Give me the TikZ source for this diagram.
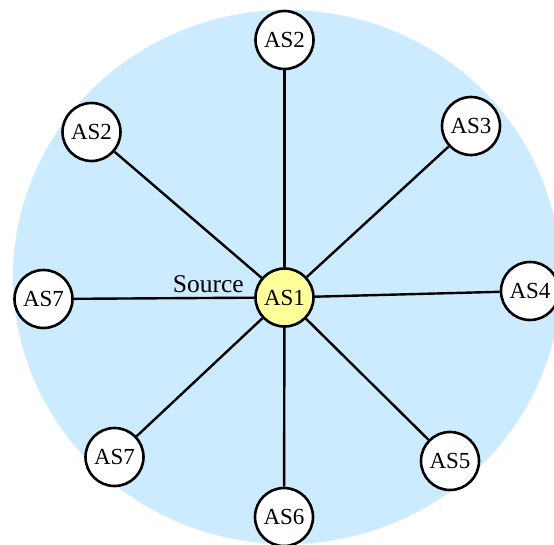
\documentclass[tikz,border=0pt]{standalone}
\usepackage{fontspec}
\setmainfont{Liberation Serif}
\definecolor{skyfill}{RGB}{204,235,254}
\definecolor{srcfill}{RGB}{255,255,153}
\begin{document}
\begin{tikzpicture}[x=1pt,y=-1pt,
  asnode/.style={circle,draw=black,line width=2.6pt,fill=white,minimum size=58pt,inner sep=0pt,font=\fontsize{23}{25}\selectfont},
  srcnode/.style={asnode,fill=srcfill},
  link/.style={draw=black,line width=2.4pt}]
\clip (0,0) rectangle (554,544);
\fill[skyfill] (287,277) ellipse [x radius=274, y radius=267];
\node[srcnode] (as1) at (284.5,297.5) {AS1};
\node[asnode] (as2t) at (284.5,40) {AS2};
\node[asnode] (as2l) at (91.5,132) {AS2};
\node[asnode] (as3) at (471,126) {AS3};
\node[asnode] (as7l) at (43.5,299) {AS7};
\node[asnode] (as4) at (530,291) {AS4};
\node[asnode] (as7b) at (114.5,457) {AS7};
\node[asnode] (as5) at (450,461) {AS5};
\node[asnode] (as6) at (284,517) {AS6};
\node[anchor=base east,inner sep=0pt,font=\fontsize{25.5}{27}\selectfont] (src) at (244,292.5) {Source};
\foreach \t in {as2t,as2l,as3,as7l,as4,as7b,as5,as6}
  \draw[link] (as1) -- (\t);
\end{tikzpicture}
\end{document}
